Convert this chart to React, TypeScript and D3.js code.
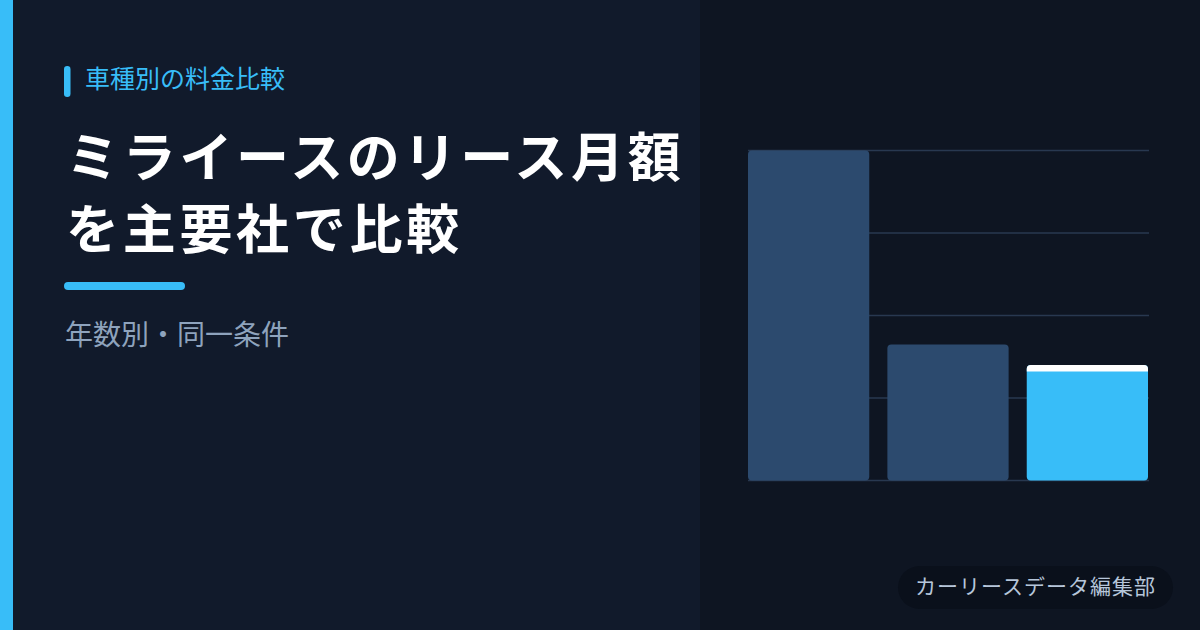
import React, { useEffect, useRef } from "react";
import * as d3 from "d3";

// monthly lease price (yen), 3 companies, the last one is the highlighted one
const companies = ["A社", "B社", "C社"];
const monthlyFee = [40000, 16500, 14000];
const highlight = "C社";
const gridTicks = [0, 10000, 20000, 30000, 40000];

const W = 1200;
const H = 630;
const FONT = "'Noto Sans CJK JP', 'Noto Sans', sans-serif";

export default function App() {
  const ref = useRef<SVGSVGElement>(null);

  useEffect(() => {
    const svg = d3.select(ref.current);
    svg.selectAll("*").remove();

    // backgrounds
    svg.append("rect").attr("width", W).attr("height", H).attr("fill", "#111a2b");
    svg.append("rect").attr("x", 700).attr("width", W - 700).attr("height", H).attr("fill", "#0e1522");
    svg.append("rect").attr("width", 13).attr("height", H).attr("fill", "#38bdf8");

    // eyebrow label
    svg.append("rect")
      .attr("x", 64).attr("y", 66).attr("width", 6.5).attr("height", 31).attr("rx", 3.2)
      .attr("fill", "#38bdf8");
    svg.append("text")
      .attr("x", 85).attr("y", 88)
      .attr("font-family", FONT).attr("font-size", 25)
      .attr("fill", "#38bdf8")
      .text("車種別の料金比較");

    // title
    const title = svg.append("text")
      .attr("font-family", FONT).attr("font-size", 53).attr("font-weight", 700)
      .attr("letter-spacing", 3.7)
      .attr("fill", "#ffffff");
    title.append("tspan").attr("x", 66).attr("y", 177).text("ミライースのリース月額");
    title.append("tspan").attr("x", 66).attr("y", 249).text("を主要社で比較");

    svg.append("rect")
      .attr("x", 64).attr("y", 282).attr("width", 121).attr("height", 8).attr("rx", 4)
      .attr("fill", "#38bdf8");

    svg.append("text")
      .attr("x", 65).attr("y", 345)
      .attr("font-family", FONT).attr("font-size", 28)
      .attr("fill", "#8ea3bd")
      .text("年数別・同一条件");

    // chart
    const x = d3.scaleBand<string>()
      .domain(companies)
      .range([748, 1148])
      .paddingInner(0.13);
    const y = d3.scaleLinear()
      .domain([0, d3.max(monthlyFee) as number])
      .range([480.5, 150.5]);

    svg.append("g")
      .selectAll("line")
      .data(gridTicks)
      .join("line")
      .attr("x1", 748).attr("x2", 1149)
      .attr("y1", (d) => y(d)).attr("y2", (d) => y(d))
      .attr("stroke", "#283850").attr("stroke-width", 1.3);

    const bars = svg.append("g")
      .selectAll("g")
      .data(companies.map((c, i) => ({ c, v: monthlyFee[i] })))
      .join("g");

    bars.append("rect")
      .attr("x", (d) => x(d.c) as number)
      .attr("y", (d) => y(d.v))
      .attr("width", x.bandwidth())
      .attr("height", (d) => y(0) - y(d.v))
      .attr("rx", 4)
      .attr("fill", (d) => (d.c === highlight ? "#38bdf8" : "#2c4a6e"));

    // white cap on the highlighted bar
    bars.filter((d) => d.c === highlight)
      .append("path")
      .attr("d", (d) => {
        const x0 = x(d.c) as number;
        const x1 = x0 + x.bandwidth();
        const y0 = y(d.v);
        const r = 4;
        const h = 6.5;
        return `M${x0},${y0 + h}V${y0 + r}Q${x0},${y0} ${x0 + r},${y0}H${x1 - r}Q${x1},${y0} ${x1},${y0 + r}V${y0 + h}Z`;
      })
      .attr("fill", "#ffffff");

    // credit badge
    svg.append("rect")
      .attr("x", 898).attr("y", 566).attr("width", 275).attr("height", 43).attr("rx", 21.5)
      .attr("fill", "#0a101b");
    svg.append("text")
      .attr("x", 1035.5).attr("y", 593.5)
      .attr("text-anchor", "middle")
      .attr("font-family", FONT).attr("font-size", 21)
      .attr("letter-spacing", 1)
      .attr("fill", "#b6c6da")
      .text("カーリースデータ編集部");
  }, []);

  return (
    <svg ref={ref} width={W} height={H}
         style={{ position: "absolute", left: 0, top: 0 }}>
    </svg>
  );
}
